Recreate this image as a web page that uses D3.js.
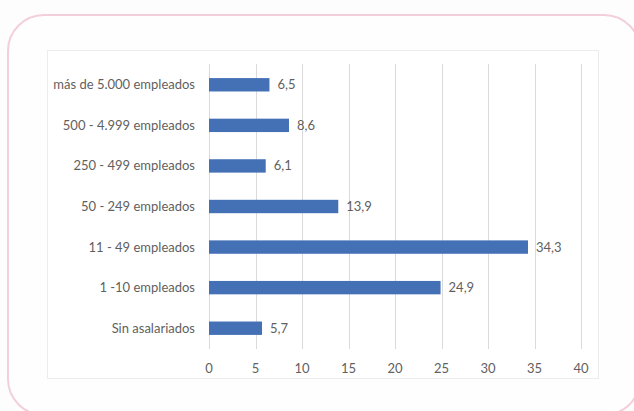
<!DOCTYPE html>
<html>
<head>
<meta charset="utf-8">
<script src="https://cdn.jsdelivr.net/npm/d3@7"></script>
<style>
  body { margin: 0; background: #fdfdfd; }
  svg { display: block; }
  text { font-family: Lato, "Open Sans", sans-serif; fill: #5f5f5f; }
</style>
</head>
<body>
<script>
// data, top to bottom as drawn
var categories = ["más de 5.000 empleados", "500 - 4.999 empleados", "250 - 499 empleados",
  "50 - 249 empleados", "11 - 49 empleados", "1 -10 empleados", "Sin asalariados"];
var values = [6.5, 8.6, 6.1, 13.9, 34.3, 24.9, 5.7];
var labels = ["6,5", "8,6", "6,1", "13,9", "34,3", "24,9", "5,7"];
var ticks = [0, 5, 10, 15, 20, 25, 30, 35, 40];

var width = 634, height = 411;
var svg = d3.select("body").append("svg")
    .attr("width", width)
    .attr("height", height);

// outer rounded frame
svg.append("rect")
    .attr("x", 8).attr("y", 15)
    .attr("width", 632).attr("height", 400)
    .attr("rx", 36).attr("ry", 36)
    .attr("fill", "#fefefe")
    .attr("stroke", "#f2cfda")
    .attr("stroke-width", 2);

// chart area
svg.append("rect")
    .attr("x", 47.5).attr("y", 50.5)
    .attr("width", 551).attr("height", 328)
    .attr("fill", "#fff")
    .attr("stroke", "#ececec");

var x = d3.scaleLinear().domain([0, 40]).range([209, 581]);
var y = d3.scaleBand().domain(categories).range([64.5, 348.5]).paddingInner(0.67).paddingOuter(0.335);

// gridlines
svg.append("g").selectAll("line").data(ticks).enter().append("line")
    .attr("x1", function(d){ return Math.round(x(d)) + 0.5; })
    .attr("x2", function(d){ return Math.round(x(d)) + 0.5; })
    .attr("y1", 64).attr("y2", 349)
    .attr("stroke", "#dadada");

// tick labels
svg.append("g").selectAll("text").data(ticks).enter().append("text")
    .attr("x", function(d){ return x(d); })
    .attr("y", 368)
    .attr("dy", "0.35em")
    .attr("text-anchor", "middle")
    .attr("font-size", 13)
    .text(function(d){ return d; });

// bars
svg.append("g").selectAll("rect").data(values).enter().append("rect")
    .attr("x", x(0))
    .attr("y", function(d, i){ return y(categories[i]); })
    .attr("width", function(d){ return x(d) - x(0); })
    .attr("height", y.bandwidth())
    .attr("fill", "#4470b6");

// category labels
svg.append("g").selectAll("text").data(categories).enter().append("text")
    .attr("x", 195)
    .attr("y", function(d){ return y(d) + y.bandwidth() / 2; })
    .attr("dy", "0.35em")
    .attr("text-anchor", "end")
    .attr("font-size", 13)
    .text(function(d){ return d; });

// value labels
svg.append("g").selectAll("text").data(values).enter().append("text")
    .attr("x", function(d){ return x(d) + 8; })
    .attr("y", function(d, i){ return y(categories[i]) + y.bandwidth() / 2; })
    .attr("dy", "0.35em")
    .attr("font-size", 13)
    .text(function(d, i){ return labels[i]; });
</script>
</body>
</html>
